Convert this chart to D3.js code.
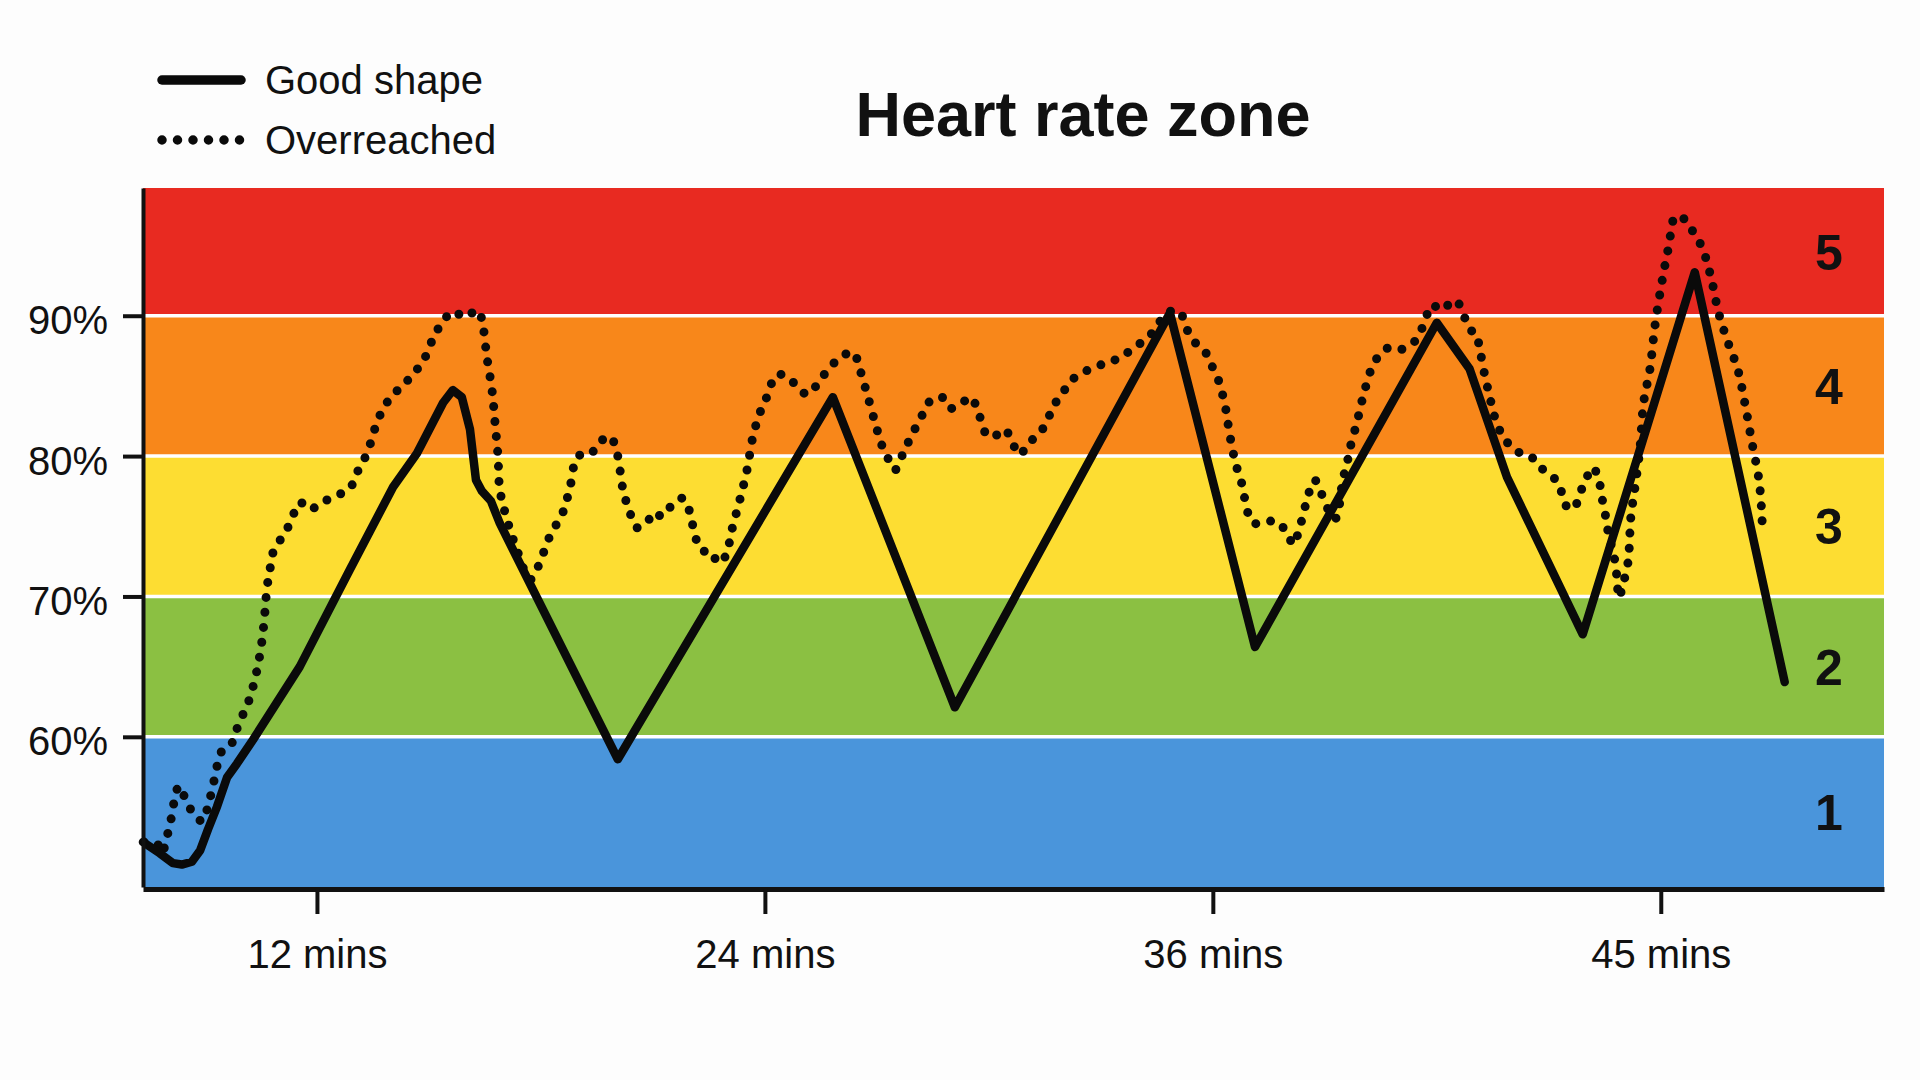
<!DOCTYPE html>
<html lang="en">
<head>
	<meta charset="utf-8">
	<title>Heart rate zone</title>
	<script type="text/javascript" src="https://cdn.jsdelivr.net/npm/d3@7/dist/d3.min.js"></script>
</head>

<style type="text/css">
	body{
		margin: 0;
		background-color: #fdfdfd;
	}
	svg{
		display: block;
		font-family: "Liberation Sans", Arial, sans-serif;
	}
	.tickLabels{
		font-size: 40px;
		fill: #111;
	}
	.zoneLabels{
		font-size: 50px;
		font-weight: bold;
		fill: #111;
	}
</style>

<body>

<div id="vizContainer"></div>

<script type="text/javascript">

// -----------PART 1: THE DATA-----------

// the five zones, bottom to top (percent of max heart rate)
var zoneBounds = [49.3, 60, 70, 80, 90, 99.1];
var zoneNames = ["1", "2", "3", "4", "5"];
var zoneColors = ["#4a95db", "#8bc042", "#fddd32", "#f8871a", "#e82a21"];

// axis ticks
var yTicks = [60, 70, 80, 90];
var xTicks = [12, 24, 36, 48];
var xTickLabels = ["12 mins", "24 mins", "36 mins", "45 mins"];

// solid line - "good shape" (minutes, % of max)
var goodMins = [7.34, 7.79, 8.14, 8.38, 8.65, 8.87, 9.08, 9.32, 9.59, 9.86,
	10.29, 11.54, 12.88, 14.04, 14.68, 15.38, 15.64, 15.88, 16.10, 16.26,
	16.42, 16.66, 16.90, 20.06, 25.82, 29.09, 34.85, 37.13, 42.00, 42.88,
	43.88, 45.91, 48.91, 51.32];
var goodPct = [52.5, 51.7, 51.0, 50.9, 51.1, 51.9, 53.4, 55.0, 57.1, 58.1,
	59.8, 65.0, 71.9, 77.8, 80.2, 83.8, 84.7, 84.2, 81.9, 78.3,
	77.5, 76.8, 75.2, 58.4, 84.2, 62.1, 90.2, 66.4, 89.5, 86.2,
	78.5, 67.3, 93.1, 63.9];

// dotted line - "overreached"
var overMins = [7.37, 7.71, 7.85, 7.96, 8.06, 8.20, 8.30, 8.44, 8.60, 8.79,
	8.95, 9.08, 9.19, 9.30, 9.43, 9.67, 9.83, 10.02, 10.18, 10.31,
	10.42, 10.53, 10.61, 10.66, 10.74, 10.82, 11.01, 11.28, 11.54, 11.81,
	12.13, 12.54, 12.88, 13.07, 13.34, 13.61, 13.82, 14.09, 14.36, 14.63,
	14.89, 15.13, 15.38, 15.64, 15.96, 16.31, 16.45, 16.55, 16.69, 16.77,
	16.85, 16.90, 17.09, 17.36, 17.71, 17.92, 18.24, 18.59, 18.78, 18.99,
	19.31, 19.58, 19.85, 20.04, 20.20, 20.38, 20.57, 20.84, 21.05, 21.24,
	21.51, 21.80, 21.99, 22.13, 22.31, 22.61, 22.71, 22.93, 23.12, 23.33,
	23.52, 23.68, 23.87, 24.05, 24.32, 24.62, 24.88, 25.13, 25.34, 25.53,
	25.74, 26.01, 26.36, 26.54, 26.73, 26.95, 27.13, 27.27, 27.48, 27.67,
	27.88, 28.21, 28.42, 28.74, 28.96, 29.28, 29.52, 29.68, 29.81, 29.97,
	30.21, 30.43, 30.62, 30.83, 31.05, 31.31, 31.55, 31.71, 31.96, 32.17,
	32.49, 32.89, 33.24, 33.56, 33.83, 34.18, 34.45, 34.66, 34.85, 35.04,
	35.20, 35.33, 35.52, 35.76, 35.92, 36.11, 36.24, 36.35, 36.43, 36.54,
	36.64, 36.78, 36.86, 36.96, 37.10, 37.31, 37.74, 37.98, 38.17, 38.30,
	38.41, 38.52, 38.63, 38.73, 38.87, 39.00, 39.13, 39.27, 39.38, 39.48,
	39.59, 39.67, 39.86, 40.05, 40.29, 40.47, 40.69, 41.04, 41.38, 41.57,
	41.71, 41.89, 42.08, 42.32, 42.51, 42.70, 42.88, 43.04, 43.15, 43.29,
	43.42, 43.55, 43.71, 43.88, 44.17, 44.44, 44.71, 44.89, 45.19, 45.32,
	45.40, 45.54, 45.72, 45.86, 46.02, 46.18, 46.34, 46.42, 46.53, 46.61,
	46.74, 46.82, 46.88, 46.98, 47.12, 47.20, 47.30, 47.44, 47.54, 47.71,
	47.84, 48.03, 48.21, 48.40, 48.67, 48.86, 49.10, 49.34, 49.55, 49.80,
	50.06, 50.25, 50.44, 50.63, 50.71, 50.72];
var overPct = [52.5, 52.4, 51.7, 52.7, 53.7, 55.7, 56.5, 55.8, 54.9, 54.2,
	54.0, 55.1, 56.2, 57.6, 58.9, 59.3, 60.4, 61.6, 62.6, 63.8,
	65.1, 66.9, 69.0, 70.6, 71.9, 73.1, 74.0, 75.2, 76.7, 76.2,
	76.7, 77.2, 77.7, 78.8, 80.2, 82.4, 83.6, 84.5, 85.2, 86.0,
	87.0, 88.5, 89.6, 90.3, 89.9, 90.4, 89.2, 87.1, 84.7, 82.4,
	80.0, 77.6, 75.5, 73.3, 71.2, 72.1, 74.3, 76.0, 77.8, 80.0,
	80.1, 81.0, 81.4, 80.2, 77.6, 76.0, 74.9, 75.3, 76.0, 75.7,
	76.5, 77.0, 76.0, 74.3, 73.3, 73.1, 72.4, 72.8, 74.8, 76.9,
	79.0, 81.4, 83.1, 84.2, 85.8, 85.6, 84.9, 84.4, 84.9, 85.6,
	86.3, 87.0, 87.4, 86.2, 84.5, 82.4, 80.8, 80.0, 79.0, 80.0,
	81.2, 82.9, 83.9, 84.2, 83.4, 83.8, 84.2, 83.4, 82.4, 81.4,
	81.5, 81.9, 81.0, 80.1, 80.9, 81.5, 82.4, 83.5, 84.4, 85.3,
	85.9, 86.4, 86.7, 87.1, 87.6, 88.3, 89.0, 89.9, 90.3, 90.4,
	89.9, 88.9, 88.1, 87.6, 86.7, 85.7, 84.6, 83.3, 81.9, 80.3,
	79.2, 78.0, 76.9, 75.8, 75.2, 75.3, 75.3, 74.5, 73.7, 74.7,
	75.7, 76.9, 77.8, 78.3, 77.6, 76.7, 76.0, 75.5, 76.4, 78.3,
	79.4, 80.5, 82.4, 84.5, 86.5, 87.2, 87.7, 87.6, 88.1, 88.9,
	89.9, 90.8, 90.4, 90.8, 91.1, 90.2, 89.0, 88.8, 87.6, 85.7,
	84.2, 82.8, 81.7, 81.0, 80.3, 80.1, 79.5, 78.9, 78.3, 77.6,
	76.9, 76.2, 76.5, 77.5, 78.5, 79.2, 78.3, 77.1, 75.6, 74.3,
	73.0, 71.5, 69.9, 70.8, 72.4, 75.7, 77.6, 80.5, 83.8, 86.2,
	89.2, 92.4, 94.9, 97.1, 96.8, 96.0, 94.9, 92.8, 90.2, 88.1,
	86.2, 83.8, 81.0, 78.3, 75.7, 74.5];

var goodData = d3.zip(goodMins, goodPct);
var overData = d3.zip(overMins, overPct);

// -----------PART 2: SETTING UP THE CANVAS-----------
var width = 1920;
var height = 1080;
var plot = {left: 143, right: 1884, top: 188, bottom: 887};

var svgCanvas = d3.select("#vizContainer").append("svg")
	.attr("width", width)
	.attr("height", height);

svgCanvas.append("rect")
	.attr("width", width)
	.attr("height", height)
	.attr("fill", "#fdfdfd");

var xScale = d3.scaleLinear()
	.domain([7.34, 53.98])
	.range([plot.left, plot.right]);

var yScale = d3.scaleLinear()
	.domain([zoneBounds[0], zoneBounds[zoneBounds.length - 1]])
	.range([plot.bottom, plot.top]);

// -----------PART 3: DRAWING ON THE CANVAS-----------

// zone bands
var zones = zoneNames.map(function(name, i){
	return {name: name, lo: zoneBounds[i], hi: zoneBounds[i + 1], color: zoneColors[i]};
});

svgCanvas.selectAll(".zone")
	.data(zones)
	.enter()
	.append("rect")
	.attr("class", "zone")
	.attr("x", plot.left)
	.attr("width", plot.right - plot.left)
	.attr("y", function(d){ return yScale(d.hi); })
	.attr("height", function(d){ return yScale(d.lo) - yScale(d.hi); })
	.attr("fill", function(d){ return d.color; });

// white lines between the zones
svgCanvas.selectAll(".zoneLine")
	.data(yTicks)
	.enter()
	.append("line")
	.attr("x1", plot.left)
	.attr("x2", plot.right)
	.attr("y1", function(d){ return yScale(d); })
	.attr("y2", function(d){ return yScale(d); })
	.attr("stroke", "#ffffff")
	.attr("stroke-width", 3.5);

// zone numbers on the right
svgCanvas.selectAll(".zoneLabels")
	.data(zones)
	.enter()
	.append("text")
	.attr("class", "zoneLabels")
	.attr("x", plot.right - 55)
	.attr("y", function(d){ return (yScale(d.lo) + yScale(d.hi)) / 2; })
	.attr("dy", "0.36em")
	.attr("text-anchor", "middle")
	.text(function(d){ return d.name; });

// the two lines
var goodLine = d3.line()
	.x(function(d){ return xScale(d[0]); })
	.y(function(d){ return yScale(d[1]); })
	.curve(d3.curveLinear);

var overLine = d3.line()
	.x(function(d){ return xScale(d[0]); })
	.y(function(d){ return yScale(d[1]); })
	.curve(d3.curveCatmullRom.alpha(0.5));

svgCanvas.append("path")
	.datum(overData)
	.attr("d", overLine)
	.attr("fill", "none")
	.attr("stroke", "#0a0a0a")
	.attr("stroke-width", 9)
	.attr("stroke-linecap", "round")
	.attr("stroke-dasharray", "0 15");

svgCanvas.append("path")
	.datum(goodData)
	.attr("d", goodLine)
	.attr("fill", "none")
	.attr("stroke", "#0a0a0a")
	.attr("stroke-width", 8.5)
	.attr("stroke-linejoin", "round")
	.attr("stroke-linecap", "round");

// axes
var yAxis = d3.axisLeft(yScale)
	.tickValues(yTicks)
	.tickFormat(function(d){ return d + "%"; })
	.tickSize(20)
	.tickSizeOuter(0)
	.tickPadding(15);

var yAxisG = svgCanvas.append("g")
	.attr("transform", "translate(" + plot.left + ",0)")
	.call(yAxis);
yAxisG.select(".domain").attr("stroke", "#111").attr("stroke-width", 4);
yAxisG.selectAll(".tick line").attr("stroke", "#111").attr("stroke-width", 4);
yAxisG.selectAll(".tick text")
	.attr("class", "tickLabels")
	.attr("font-family", null)
	.attr("dy", "0.45em");

var xAxis = d3.axisBottom(xScale)
	.tickValues(xTicks)
	.tickFormat(function(d, i){ return xTickLabels[i]; })
	.tickSize(25)
	.tickSizeOuter(0);

var xAxisG = svgCanvas.append("g")
	.attr("transform", "translate(0," + (plot.bottom + 2) + ")")
	.call(xAxis);
xAxisG.select(".domain").attr("stroke", "#111").attr("stroke-width", 5);
xAxisG.selectAll(".tick line").attr("stroke", "#111").attr("stroke-width", 4);
xAxisG.selectAll(".tick text")
	.attr("class", "tickLabels")
	.attr("font-family", null)
	.attr("y", 79)
	.attr("dy", 0);

// title
svgCanvas.append("text")
	.attr("x", 1083)
	.attr("y", 136)
	.attr("text-anchor", "middle")
	.attr("font-size", 63)
	.attr("font-weight", "bold")
	.attr("fill", "#111")
	.text("Heart rate zone");

// legend
var legendItems = [
	{label: "Good shape", dash: null, y: 80},
	{label: "Overreached", dash: "0 15.5", y: 140}
];

var legend = svgCanvas.selectAll(".legendItem")
	.data(legendItems)
	.enter()
	.append("g")
	.attr("transform", function(d){ return "translate(0," + d.y + ")"; });

legend.append("line")
	.attr("x1", 162)
	.attr("x2", 241)
	.attr("stroke", "#0a0a0a")
	.attr("stroke-width", 9.5)
	.attr("stroke-linecap", "round")
	.attr("stroke-dasharray", function(d){ return d.dash; });

legend.append("text")
	.attr("class", "tickLabels")
	.attr("x", 265)
	.attr("y", 14)
	.text(function(d){ return d.label; });

</script>
</body>
</html>
